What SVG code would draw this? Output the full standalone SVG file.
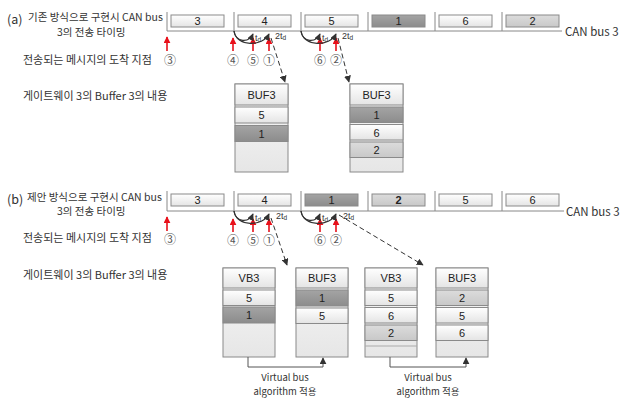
<svg xmlns="http://www.w3.org/2000/svg" width="621" height="400" viewBox="0 0 621 400">
<defs>
<linearGradient id="gW" x1="0" y1="0" x2="0" y2="1"><stop offset="0" stop-color="#ffffff"/><stop offset="1" stop-color="#e4e4e4"/></linearGradient>
<linearGradient id="gD" x1="0" y1="0" x2="0" y2="1"><stop offset="0" stop-color="#a4a4a4"/><stop offset="1" stop-color="#8c8c8c"/></linearGradient>
<linearGradient id="gL" x1="0" y1="0" x2="0" y2="1"><stop offset="0" stop-color="#dcdcdc"/><stop offset="1" stop-color="#c8c8c8"/></linearGradient>
<linearGradient id="gB" x1="0" y1="0" x2="0" y2="1"><stop offset="0" stop-color="#f8f8f8"/><stop offset="1" stop-color="#e6e6e6"/></linearGradient>
<marker id="ah" viewBox="0 0 10 10" refX="9" refY="5" markerWidth="7" markerHeight="7" orient="auto" markerUnits="userSpaceOnUse"><path d="M0,0 L10,5 L0,10 z" fill="#333"/></marker>
<marker id="ahr" viewBox="0 0 10 10" refX="9" refY="5" markerWidth="7" markerHeight="7" orient="auto" markerUnits="userSpaceOnUse"><path d="M0,0 L10,5 L0,10 z" fill="#e8101a"/></marker>
</defs>
<style>
text{font-family:"Noto Sans CJK KR","Liberation Sans",sans-serif;fill:#333}
.lbl{font-size:10.5px}
.lbl2{font-size:11px}
.hd{font-size:12.5px}
.can{font-size:11.5px}
.num{font-family:"Liberation Sans","Noto Sans CJK KR",sans-serif;font-size:11px;text-anchor:middle;fill:#222}
.circ{font-size:12px;text-anchor:middle;fill:#555}
.sm{font-family:"Liberation Sans",sans-serif;font-size:9px;fill:#333}
.box{stroke:#8a8a8a;stroke-width:1}
.w{fill:url(#gW)}
.d{fill:url(#gD)}
.l{fill:url(#gL)}
.bus{stroke:#888;stroke-width:1;fill:none}
.red{stroke:#e8101a;stroke-width:1.6;marker-end:url(#ahr)}
.crv{stroke:#333;stroke-width:1.2;fill:none;marker-end:url(#ah)}
.dash{stroke:#333;stroke-width:1;stroke-dasharray:5,3;fill:none;marker-end:url(#ah)}
.vb{stroke:#555;stroke-width:1;fill:none;marker-end:url(#ah)}
.outer{fill:url(#gB);stroke:#8a8a8a}
.txt{font-size:9.5px;text-anchor:middle;fill:#333}
</style>

<!-- Part (a) labels -->
<g id="labels-a">
<text class="hd" x="7" y="24">(a)</text>
<text class="lbl" x="28" y="21">기존 방식으로 구현시 CAN bus</text>
<text class="lbl" x="57" y="36">3의 전송 타이밍</text>
<text class="lbl2" x="23" y="64">전송되는 메시지의 도착 지점</text>
<text class="lbl2" x="23" y="100">게이트웨이 3의 Buffer 3의 내용</text>
</g>

<!-- Bus (a) -->
<g id="bus-a">
<path class="bus" d="M167,31 H562 M167,12 V31 M234,12 V31 M301,12 V31 M368,12 V31 M435,12 V31 M502,12 V31"/>
<rect class="box w" x="171" y="15" width="53" height="12"/><text class="num" x="197.5" y="25">3</text>
<rect class="box w" x="238" y="15" width="53" height="12"/><text class="num" x="264.5" y="25">4</text>
<rect class="box w" x="305" y="15" width="53" height="12"/><text class="num" x="331.5" y="25">5</text>
<rect class="box d" x="372" y="15" width="53" height="12"/><text class="num" x="398.5" y="25">1</text>
<rect class="box w" x="439" y="15" width="53" height="12"/><text class="num" x="465.5" y="25">6</text>
<rect class="box l" x="506" y="15" width="53" height="12"/><text class="num" x="532.5" y="25">2</text>
<text class="can" x="565" y="36">CAN bus 3</text>
</g>

<!-- Arrivals (a) -->
<g id="arrivals-a">
<line class="red" x1="167" y1="51" x2="167" y2="37"/>
<line class="red" x1="233" y1="51" x2="233" y2="38"/>
<line class="red" x1="253" y1="51" x2="253" y2="38"/>
<line class="red" x1="269" y1="51" x2="269" y2="38"/>
<line class="red" x1="320" y1="51" x2="320" y2="38"/>
<line class="red" x1="336" y1="51" x2="336" y2="38"/>
<text class="circ" x="170" y="65">③</text>
<text class="circ" x="233" y="65">④</text>
<text class="circ" x="253" y="65">⑤</text>
<text class="circ" x="269" y="65">①</text>
<text class="circ" x="320" y="65">⑥</text>
<text class="circ" x="336" y="65">②</text>
<path class="crv" d="M234,31 C236,43 249,43 253,34"/>
<path class="crv" d="M234,31 C236,47 263,47 269,34"/>
<path class="crv" d="M301,31 C303,43 316,43 320,34"/>
<path class="crv" d="M301,31 C303,47 330,47 336,34"/>
<text class="sm" x="255" y="41">t<tspan font-size="6.5" dy="1">d</tspan></text>
<text class="sm" x="275" y="39">2t<tspan font-size="6.5" dy="1">d</tspan></text>
<text class="sm" x="322" y="41">t<tspan font-size="6.5" dy="1">d</tspan></text>
<text class="sm" x="342" y="39">2t<tspan font-size="6.5" dy="1">d</tspan></text>
</g>

<!-- Buffers (a) -->
<g id="buf3-a1">
<rect class="outer" x="235" y="84" width="53" height="88"/>
<rect class="box w" x="235" y="84" width="53" height="21"/><text class="num" x="261.5" y="99">BUF3</text>
<rect class="box w" x="235" y="107" width="53" height="16"/><text class="num" x="261.5" y="119">5</text>
<rect class="box d" x="235" y="125.5" width="53" height="16"/><text class="num" x="261.5" y="137.5">1</text>
</g>
<g id="buf3-a2">
<rect class="outer" x="350" y="84" width="53" height="88"/>
<rect class="box w" x="350" y="84" width="53" height="21"/><text class="num" x="376.5" y="99">BUF3</text>
<rect class="box d" x="350" y="107" width="53" height="15.5"/><text class="num" x="376.5" y="119">1</text>
<rect class="box w" x="350" y="124.5" width="53" height="15.5"/><text class="num" x="376.5" y="136.5">6</text>
<rect class="box l" x="350" y="142" width="53" height="15.5"/><text class="num" x="376.5" y="154">2</text>
</g>

<!-- Part (b) labels -->
<g id="labels-b">
<text class="hd" x="7" y="204">(b)</text>
<text class="lbl" x="27" y="201">제안 방식으로 구현시 CAN bus</text>
<text class="lbl" x="57" y="215">3의 전송 타이밍</text>
<text class="lbl2" x="23" y="242">전송되는 메시지의 도착 지점</text>
<text class="lbl2" x="23" y="279">게이트웨이 3의 Buffer 3의 내용</text>
</g>

<!-- Bus (b) -->
<g id="bus-b">
<path class="bus" d="M167,211 H564 M167,191 V211 M234,191 V211 M301,191 V211 M368,191 V211 M435,191 V211 M502,191 V211"/>
<rect class="box w" x="171" y="194" width="53" height="12"/><text class="num" x="197.5" y="204">3</text>
<rect class="box w" x="238" y="194" width="53" height="12"/><text class="num" x="264.5" y="204">4</text>
<rect class="box d" x="305" y="194" width="53" height="12"/><text class="num" x="331.5" y="204">1</text>
<rect class="box l" x="372" y="194" width="53" height="12"/><text class="num" x="398.5" y="204" font-weight="bold">2</text>
<rect class="box w" x="439" y="194" width="53" height="12"/><text class="num" x="465.5" y="204">5</text>
<rect class="box w" x="506" y="194" width="53" height="12"/><text class="num" x="532.5" y="204">6</text>
<text class="can" x="566" y="216">CAN bus 3</text>
</g>

<!-- Arrivals (b) -->
<g id="arrivals-b">
<line class="red" x1="167" y1="231" x2="167" y2="217"/>
<line class="red" x1="233" y1="232" x2="233" y2="219"/>
<line class="red" x1="253" y1="232" x2="253" y2="219"/>
<line class="red" x1="269" y1="232" x2="269" y2="219"/>
<line class="red" x1="320" y1="232" x2="320" y2="219"/>
<line class="red" x1="336" y1="232" x2="336" y2="219"/>
<text class="circ" x="170" y="244">③</text>
<text class="circ" x="233" y="245">④</text>
<text class="circ" x="253" y="245">⑤</text>
<text class="circ" x="269" y="245">①</text>
<text class="circ" x="320" y="245">⑥</text>
<text class="circ" x="336" y="245">②</text>
<path class="crv" d="M234,211 C236,223 249,223 253,214"/>
<path class="crv" d="M234,211 C236,227 263,227 269,214"/>
<path class="crv" d="M301,211 C303,223 316,223 320,214"/>
<path class="crv" d="M301,211 C303,227 330,227 336,214"/>
<text class="sm" x="255" y="221">t<tspan font-size="6.5" dy="1">d</tspan></text>
<text class="sm" x="276" y="219">2t<tspan font-size="6.5" dy="1">d</tspan></text>
<text class="sm" x="322" y="221">t<tspan font-size="6.5" dy="1">d</tspan></text>
<text class="sm" x="343" y="219">2t<tspan font-size="6.5" dy="1">d</tspan></text>
</g>

<!-- Buffers (b) -->
<g id="vb3-b1">
<rect class="outer" x="223" y="268" width="52" height="89"/>
<rect class="box w" x="223" y="268" width="52" height="20"/><text class="num" x="249" y="282">VB3</text>
<rect class="box w" x="223" y="290" width="52" height="15.5"/><text class="num" x="249" y="302">5</text>
<rect class="box d" x="223" y="307" width="52" height="16"/><text class="num" x="249" y="319">1</text>
</g>
<g id="buf3-b1">
<rect class="outer" x="296" y="268" width="52" height="89"/>
<rect class="box w" x="296" y="268" width="52" height="20"/><text class="num" x="322" y="282">BUF3</text>
<rect class="box d" x="296" y="290" width="52" height="16"/><text class="num" x="322" y="302">1</text>
<rect class="box w" x="296" y="308" width="52" height="15.5"/><text class="num" x="322" y="320">5</text>
</g>
<g id="vb3-b2">
<rect class="outer" x="365" y="268" width="52" height="89"/>
<rect class="box w" x="365" y="268" width="52" height="20"/><text class="num" x="391" y="282">VB3</text>
<rect class="box w" x="365" y="290" width="52" height="15.5"/><text class="num" x="391" y="302">5</text>
<rect class="box w" x="365" y="307.5" width="52" height="15.5"/><text class="num" x="391" y="319.5">6</text>
<rect class="box l" x="365" y="325" width="52" height="15.5"/><text class="num" x="391" y="337">2</text>
<line x1="365" y1="346" x2="417" y2="346" stroke="#aaa"/>
</g>
<g id="buf3-b2">
<rect class="outer" x="436" y="268" width="52" height="89"/>
<rect class="box w" x="436" y="268" width="52" height="20"/><text class="num" x="462" y="282">BUF3</text>
<rect class="box l" x="436" y="290" width="52" height="15.5"/><text class="num" x="462" y="302">2</text>
<rect class="box w" x="436" y="307.5" width="52" height="15.5"/><text class="num" x="462" y="319.5">5</text>
<rect class="box w" x="436" y="325" width="52" height="15.5"/><text class="num" x="462" y="337">6</text>
</g>

<!-- Connectors -->
<g id="connectors">
<path class="dash" d="M271,38 L285,82"/>
<path class="dash" d="M338,38 L349,82"/>
<path class="dash" d="M271,218 L287,265"/>
<path class="dash" d="M339,215 L423,265"/>
<path class="vb" d="M248,357 V367 H323 V358"/>
<path class="vb" d="M390,357 V367 H466 V358"/>
</g>

<g id="vb-labels">
<text class="txt" x="285" y="381">Virtual bus</text>
<text class="txt" x="285" y="395">algorithm 적용</text>
<text class="txt" x="428" y="381">Virtual bus</text>
<text class="txt" x="428" y="395">algorithm 적용</text>
</g>
</svg>
